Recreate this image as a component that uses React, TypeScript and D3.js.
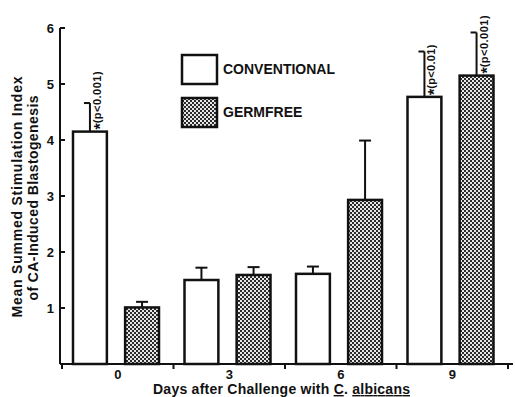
import React, { useEffect, useRef } from "react";
import * as d3 from "d3";

const days = ["0", "3", "6", "9"];
const groups = ["CONVENTIONAL", "GERMFREE"];
const conventional = [4.15, 1.5, 1.61, 4.77];
const conventionalErr = [0.51, 0.22, 0.13, 0.81];
const germfree = [1.01, 1.59, 2.93, 5.15];
const germfreeErr = [0.1, 0.14, 1.06, 0.77];
const conventionalNote = ["(p<0.001)", "", "", "(p<0.01)"];
const germfreeNote = ["", "", "", "(p<0.001)"];
const yTicks = [1, 2, 3, 4, 5, 6];

const FONT = "'Liberation Sans', Arial, sans-serif";

const App = () => {
	const svgRef = useRef<SVGSVGElement>(null);

	useEffect(() => {
		const svg = d3.select(svgRef.current);
		svg.selectAll("*").remove();

		const width = 515;
		const height = 397;
		svg.attr("width", width).attr("height", height);

		// checkered fill for the germfree bars
		const defs = svg.append("defs");
		const pat = defs
			.append("pattern")
			.attr("id", "dots")
			.attr("patternUnits", "userSpaceOnUse")
			.attr("width", 4)
			.attr("height", 4);
		pat.append("rect").attr("width", 4).attr("height", 4).attr("fill", "#2a2a2a");
		pat.append("rect").attr("x", 0).attr("y", 0).attr("width", 2).attr("height", 2).attr("fill", "#e8e8e8");
		pat.append("rect").attr("x", 2).attr("y", 2).attr("width", 2).attr("height", 2).attr("fill", "#e8e8e8");

		const x0 = d3.scaleBand().domain(days).range([62, 508]).padding(0);
		const x1 = d3.scaleBand().domain(groups).range([11, 97]).paddingInner(0.35);
		const y = d3.scaleLinear().domain([0, 6]).range([364, 28]);

		const series = [
			{ key: groups[0], values: conventional, err: conventionalErr, notes: conventionalNote, fill: "#fff" },
			{ key: groups[1], values: germfree, err: germfreeErr, notes: germfreeNote, fill: "url(#dots)" },
		];

		series.forEach((s) => {
			const g = svg.append("g");
			days.forEach((d, i) => {
				const left = x0(d)! + x1(s.key)!;
				const cx = left + x1.bandwidth() / 2;
				const top = y(s.values[i]);
				const errTop = y(s.values[i] + s.err[i]);
				const hasNote = s.notes[i] !== "";

				g.append("line")
					.attr("x1", cx)
					.attr("x2", cx)
					.attr("y1", top)
					.attr("y2", errTop)
					.attr("stroke", "#111")
					.attr("stroke-width", 2);
				g.append("line")
					.attr("x1", cx - 6)
					.attr("x2", hasNote ? cx : cx + 6)
					.attr("y1", errTop)
					.attr("y2", errTop)
					.attr("stroke", "#111")
					.attr("stroke-width", 2);

				g.append("rect")
					.attr("x", left)
					.attr("y", top)
					.attr("width", x1.bandwidth())
					.attr("height", y(0) - top)
					.attr("fill", s.fill)
					.attr("stroke", "#111")
					.attr("stroke-width", 2.5);

				if (hasNote) {
					const t = g
						.append("text")
						.attr("transform", `translate(${cx + 11},${top - 2}) rotate(-90)`)
						.attr("font-family", FONT)
						.attr("font-weight", "bold")
						.attr("font-size", 11)
						.attr("fill", "#111");
					t.append("tspan").attr("font-size", 16).attr("dy", 5).text("*");
					t.append("tspan")
						.attr("dy", -5)
						.attr("textLength", s.notes[i] === "(p<0.01)" ? 44 : 52)
						.attr("lengthAdjust", "spacing")
						.text(s.notes[i]);
				}
			});
		});

		// axes
		const axis = svg.append("g").attr("stroke", "#111").attr("stroke-width", 2).attr("fill", "none");
		axis.append("line").attr("x1", 60).attr("x2", 60).attr("y1", y(6)).attr("y2", y(0));
		axis.append("line").attr("x1", 60).attr("x2", 513).attr("y1", y(0)).attr("y2", y(0));
		yTicks.forEach((t) => {
			axis.append("line").attr("x1", 60).attr("x2", 65).attr("y1", y(t)).attr("y2", y(t));
		});
		const xEdges = days.map((d) => x0(d)!).concat([x0(days[days.length - 1])! + x0.bandwidth()]);
		xEdges.forEach((e) => {
			axis.append("line").attr("x1", e).attr("x2", e).attr("y1", y(0)).attr("y2", y(0) + 5);
		});

		const labels = svg
			.append("g")
			.attr("font-family", FONT)
			.attr("font-weight", "bold")
			.attr("fill", "#111");

		yTicks.forEach((t) => {
			labels
				.append("text")
				.attr("x", 54)
				.attr("y", y(t) + 4.5)
				.attr("text-anchor", "end")
				.attr("font-size", 13)
				.text(t);
		});
		days.forEach((d) => {
			labels
				.append("text")
				.attr("x", x0(d)! + x0.bandwidth() / 2)
				.attr("y", 379)
				.attr("text-anchor", "middle")
				.attr("font-size", 13)
				.text(d);
		});

		// axis titles
		const xt = labels
			.append("text")
			.attr("x", 153)
			.attr("y", 394)
			.attr("font-size", 14)
			.attr("textLength", 257)
			.attr("lengthAdjust", "spacing");
		xt.append("tspan").text("Days after Challenge with ");
		xt.append("tspan").style("text-decoration", "underline").text("C");
		xt.append("tspan").text(". ");
		xt.append("tspan").style("text-decoration", "underline").text("albicans");

		labels
			.append("text")
			.attr("transform", "translate(22,197) rotate(-90)")
			.attr("text-anchor", "middle")
			.attr("font-size", 14)
			.attr("textLength", 241)
			.attr("lengthAdjust", "spacing")
			.text("Mean Summed Stimulation Index");
		labels
			.append("text")
			.attr("transform", "translate(38,198) rotate(-90)")
			.attr("text-anchor", "middle")
			.attr("font-size", 14)
			.attr("textLength", 205)
			.attr("lengthAdjust", "spacing")
			.text("of CA-Induced Blastogenesis");

		// legend
		const legend = svg.append("g");
		series.forEach((s, i) => {
			const ly = i === 0 ? 55 : 98;
			legend
				.append("rect")
				.attr("x", 182)
				.attr("y", ly)
				.attr("width", 35)
				.attr("height", 29)
				.attr("fill", s.fill)
				.attr("stroke", "#111")
				.attr("stroke-width", 2.5);
			legend
				.append("text")
				.attr("x", 223)
				.attr("y", ly + 19)
				.attr("font-family", FONT)
				.attr("font-weight", "bold")
				.attr("font-size", 14)
				.attr("fill", "#111")
				.text(s.key);
		});
	}, []);

	return (
		<div style={{ position: "absolute", left: 0, top: 0 }}>
			<svg ref={svgRef} style={{ display: "block", background: "#fff" }}></svg>
		</div>
	);
};

export default App;
